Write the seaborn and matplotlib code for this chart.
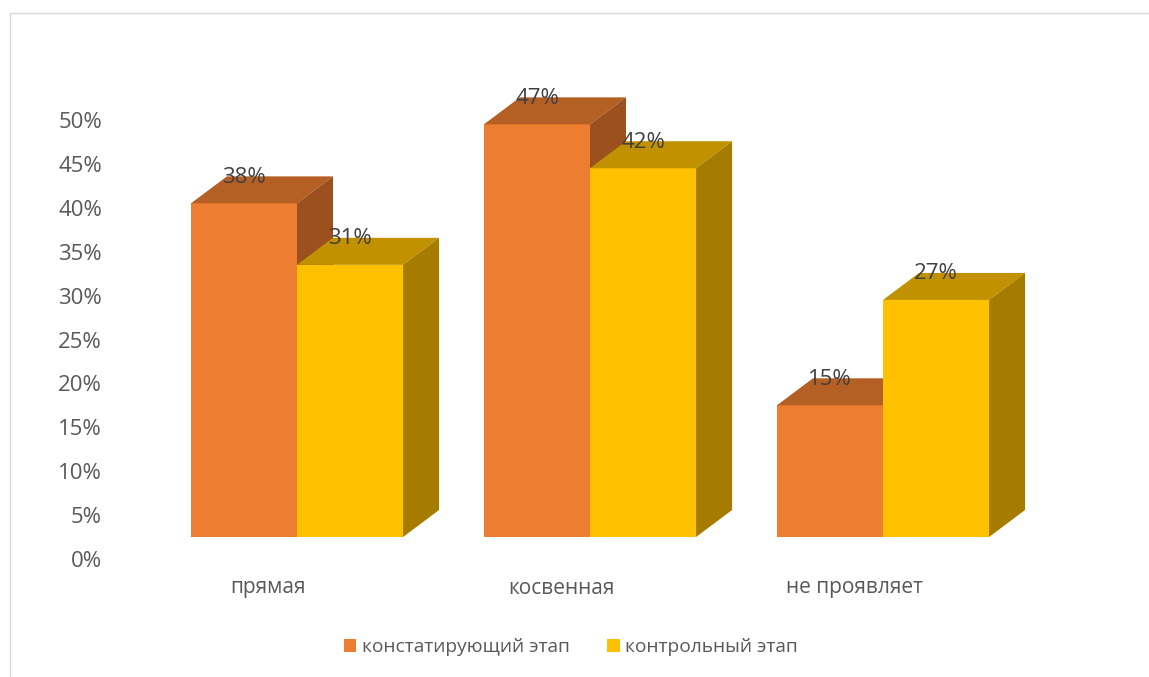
import matplotlib
matplotlib.use("Agg")
import matplotlib.pyplot as plt
import seaborn as sns
import pandas as pd
from matplotlib.patches import Polygon, Patch
from matplotlib.lines import Line2D

categories = ["прямая", "косвенная", "не проявляет"]
series_names = ["констатирующий этап", "контрольный этап"]
stage1_values = [38, 47, 15]
stage2_values = [31, 42, 27]
y_ticks = [0, 5, 10, 15, 20, 25, 30, 35, 40, 45, 50]

front_colors = ["#ED7D31", "#FFC000"]
top_colors = {"#ED7D31": "#B45F24", "#FFC000": "#C29100"}
side_colors = {"#ED7D31": "#9B501E", "#FFC000": "#A67C00"}

df = pd.DataFrame({
    "cat": categories * 2,
    "stage": [series_names[0]] * 3 + [series_names[1]] * 3,
    "value": stage1_values + stage2_values,
})

sns.set_theme(style="white")
plt.rcParams["font.family"] = ["Open Sans", "DejaVu Sans"]

W, H = 1149, 677
fig = plt.figure(figsize=(W / 100, H / 100), dpi=100)

# geometry in pixels
left_px, right_px = 150.5, 1029.5
front_bottom_px = 537
px_per_unit_y = 8.78
ax_h_px = 50 * px_per_unit_y
tick_shift_px = 22
depth_dx, depth_dy = 36, 27

ax = fig.add_axes([left_px / W, (H - front_bottom_px) / H,
                   (right_px - left_px) / W, ax_h_px / H])
ax.set_facecolor("none")

sns.barplot(data=df, x="cat", y="value", hue="stage", order=categories,
            hue_order=series_names,
            palette=dict(zip(series_names, front_colors)), saturation=1,
            width=0.724, ax=ax, legend=False, linewidth=0)
ax.set_xlim(-0.5, 2.5)
ax.set_ylim(0, 50)
ax.set_xlabel("")
ax.set_ylabel("")
ax.set_xticks([])
ax.set_yticks([])
for s in ax.spines.values():
    s.set_visible(False)

# data units per pixel
ux = 3.0 / (right_px - left_px)
uy = 50.0 / ax_h_px
ddx = depth_dx * ux
ddy = depth_dy * uy

patches = sorted(list(ax.patches), key=lambda p: p.get_x())
for rank, p in enumerate(patches):
    x0 = p.get_x()
    w = p.get_width()
    h = p.get_height()
    fc = matplotlib.colors.to_hex(p.get_facecolor()).upper()
    z = 2 + rank * 3
    p.set_zorder(z)
    p.set_clip_on(False)
    top = Polygon([(x0, h), (x0 + w, h), (x0 + w + ddx, h + ddy), (x0 + ddx, h + ddy)],
                  closed=True, facecolor=top_colors.get(fc, fc), edgecolor="none",
                  zorder=z + 1, clip_on=False)
    side = Polygon([(x0 + w, 0), (x0 + w + ddx, ddy), (x0 + w + ddx, h + ddy), (x0 + w, h)],
                   closed=True, facecolor=side_colors.get(fc, fc), edgecolor="none",
                   zorder=z + 2, clip_on=False)
    ax.add_patch(top)
    ax.add_patch(side)
    ax.annotate(f"{h:.0f}%", xy=(x0 + w / 2, h), xytext=(0, 26),
                textcoords="offset pixels", ha="center", va="center",
                fontsize=16, color="#404040", zorder=100, annotation_clip=False)

for i, c in enumerate(categories):
    ax.annotate(c, xy=(i, 0), xytext=(-29, -51), textcoords="offset pixels",
                ha="center", va="center", fontsize=15, color="#595959",
                annotation_clip=False)

# tick axis (wall), shifted down
tax = fig.add_axes([left_px / W, (H - front_bottom_px - tick_shift_px) / H,
                    (right_px - left_px) / W, ax_h_px / H], zorder=-1)
tax.set_facecolor("none")
tax.set_ylim(0, 50)
tax.set_xticks([])
tax.set_yticks(y_ticks)
tax.set_yticklabels([f"{t}%" for t in y_ticks])
tax.tick_params(axis="y", length=0, pad=48.5 * 0.72, labelsize=16, labelcolor="#595959")
for s in tax.spines.values():
    s.set_visible(False)

# legend
handles = [Patch(facecolor=c, edgecolor="none") for c in front_colors]
fig.legend(handles, series_names, loc="center", bbox_to_anchor=(571 / W, 1 - 647 / H),
           ncol=2, frameon=False, fontsize=13.8, labelcolor="#595959",
           handlelength=0.65, handleheight=0.65, handletextpad=0.3, columnspacing=1.93)

# outer frame
fig.add_artist(Line2D([10 / W, 10 / W], [0, 1 - 13 / H], transform=fig.transFigure,
                      color="#D9D9D9", linewidth=1))
fig.add_artist(Line2D([10 / W, 1], [1 - 13 / H, 1 - 13 / H], transform=fig.transFigure,
                      color="#D9D9D9", linewidth=1))

fig.savefig("out.png", dpi=100, facecolor="white")
